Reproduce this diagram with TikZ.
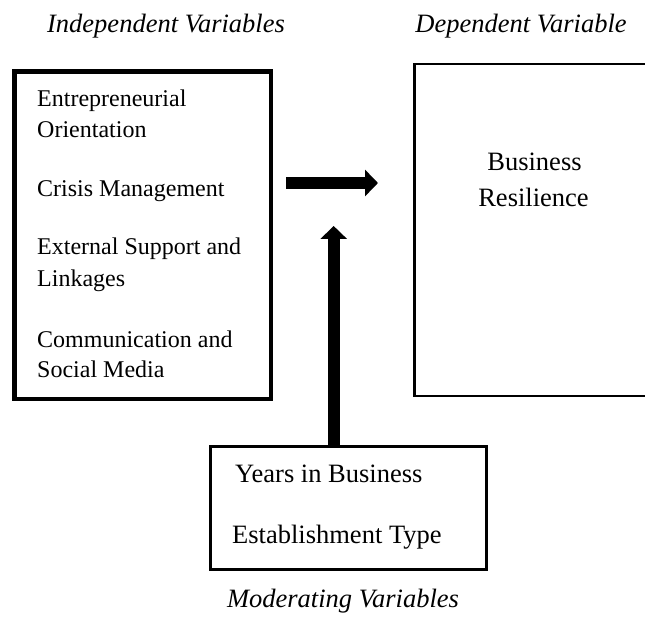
\documentclass[tikz,border=0pt]{standalone}
\usepackage{fontspec}
\setmainfont{Liberation Serif}
\usetikzlibrary{arrows.meta}
\begin{document}
\begin{tikzpicture}[x=1pt,y=-1pt,
  heavybox/.style={draw=black, line width=4.5pt, inner sep=0pt},
  lightbox/.style={draw=black, line width=2.5pt, inner sep=0pt},
  itemtext/.style={anchor=base west, inner sep=0pt, font=\fontsize{24}{29}\selectfont},
  bigtext/.style={inner sep=0pt, font=\fontsize{26.5}{32}\selectfont},
  headtext/.style={anchor=base, inner sep=0pt, font=\fontsize{26.5}{32}\selectfont\itshape},
  bigarrow/.style={draw=black, line width=12pt, -{Triangle[width=26pt,length=13pt]}}
]
\clip (0,0) rectangle (645,620);

% headings
\node[headtext] (hind) at (166,33) {Independent Variables};
\node[headtext] (hdep) at (521,33) {Dependent Variable};
\node[headtext] (hmod) at (343,607) {Moderating Variables};

% independent variables
\node[heavybox, minimum width=256.3pt, minimum height=327.5pt] (lb) at (142.85,235.25) {};
\node[itemtext] (eo1) at (37,107) {Entrepreneurial};
\node[itemtext] (eo2) at (37,138) {Orientation};
\node[itemtext] (cm)  at (37,197) {Crisis Management};
\node[itemtext] (es1) at (37,255) {External Support and};
\node[itemtext] (es2) at (37,287) {Linkages};
\node[itemtext] (cs1) at (37,347) {Communication and};
\node[itemtext] (cs2) at (37,377) {Social Media};

% dependent variable (box runs past the right edge)
\node[lightbox, minimum width=285.3pt, minimum height=332pt] (rb) at (557.35,230) {};
\node[bigtext, anchor=base] (br1) at (534.5,171) {Business};
\node[bigtext, anchor=base] (br2) at (533.5,207) {Resilience};

% moderating variables
\node[lightbox, minimum width=276pt, minimum height=123.4pt] (mb) at (348.7,508) {};
\node[bigtext, anchor=base west] (yb) at (235,482) {Years in Business};
\node[bigtext, anchor=base west] (et) at (232,543) {Establishment Type};

% arrows
\coordinate (modtip) at (333.7,226);
\draw[bigarrow, shorten <=12.75pt, shorten >=35.45pt]
  ([yshift=52.25pt]lb.east) -- ([yshift=47pt]rb.west);
\draw[bigarrow] ([xshift=-15pt]mb.north) -- (modtip);
\end{tikzpicture}
\end{document}
